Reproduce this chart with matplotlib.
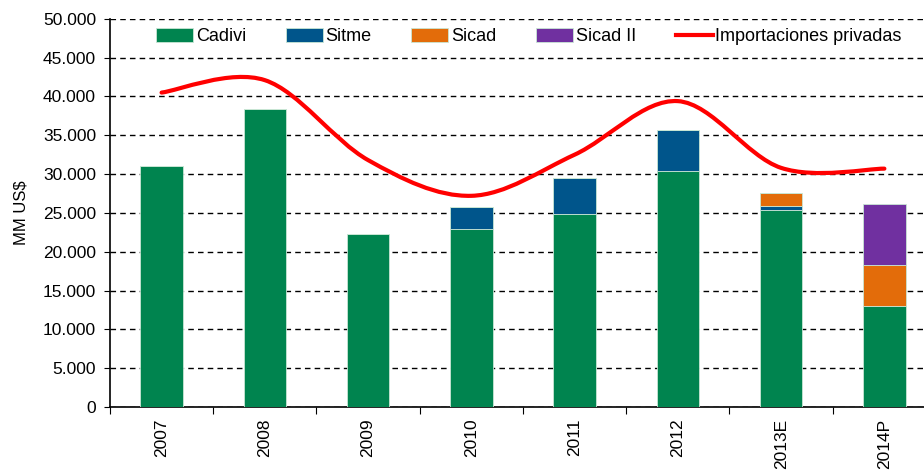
import numpy as np
import matplotlib.pyplot as plt
from matplotlib.path import Path
from matplotlib.patches import PathPatch
from matplotlib.lines import Line2D
from matplotlib.ticker import FuncFormatter

plt.rcParams['font.family'] = ['Liberation Sans', 'DejaVu Sans']

years = ['2007', '2008', '2009', '2010', '2011', '2012', '2013E', '2014P']
cadivi = [31000, 38400, 22300, 22900, 24800, 30400, 25400, 13000]
sitme = [0, 0, 0, 2800, 4700, 5300, 500, 0]
sicad = [0, 0, 0, 0, 0, 0, 1700, 5300]
sicad2 = [0, 0, 0, 0, 0, 0, 0, 7900]
importaciones = [40500, 42100, 31800, 27200, 32500, 39400, 30800, 30700]

c_green = '#00844F'
c_blue = '#00558B'
c_orange = '#E36C0A'
c_purple = '#7030A0'
c_red = '#FF0000'

fig = plt.figure(figsize=(9.24, 4.71), dpi=100)
ax = fig.add_axes([0.119, 0.136, 0.894, 0.824])

x = np.arange(len(years))
w = 0.41
edge = dict(edgecolor='#C8E6D4', linewidth=0.6)
bottom = np.zeros(len(years))
for vals, col, lab in [(cadivi, c_green, 'Cadivi'), (sitme, c_blue, 'Sitme'),
                       (sicad, c_orange, 'Sicad'), (sicad2, c_purple, 'Sicad II')]:
    v = np.array(vals, dtype=float)
    ax.bar(x, v, w, bottom=bottom, color=col, label=lab, zorder=3, **edge)
    bottom += v

# smoothed line (Catmull-Rom as bezier segments, like Excel's smoothed line)
pts = np.column_stack([x, importaciones]).astype(float)
verts = [pts[0]]
codes = [Path.MOVETO]
n = len(pts)
for i in range(n - 1):
    p0 = pts[i - 1] if i > 0 else pts[i]
    p1 = pts[i]
    p2 = pts[i + 1]
    p3 = pts[i + 2] if i + 2 < n else pts[i + 1]
    c1 = p1 + (p2 - p0) / 6.0
    c2 = p2 - (p3 - p1) / 6.0
    verts += [c1, c2, p2]
    codes += [Path.CURVE4] * 3
ax.add_patch(PathPatch(Path(verts, codes), facecolor='none', edgecolor=c_red,
                       lw=3, zorder=4, capstyle='round'))

ax.set_xlim(-0.5, len(years) - 0.5)
ax.set_ylim(0, 50000)
ax.set_yticks(np.arange(0, 50001, 5000))
ax.yaxis.set_major_formatter(FuncFormatter(lambda v, p: f'{int(v):,}'.replace(',', '.')))
ax.grid(axis='y', color='black', linestyle=(0, (4, 3)), linewidth=1, zorder=1)

ax.set_xticks(np.arange(-0.5, len(years), 1.0))
ax.set_xticklabels([])
ax.set_xticks(x, minor=True)
ax.set_xticklabels(years, minor=True, rotation=90, fontsize=12.5)
ax.tick_params(axis='x', which='major', length=5, direction='out', color='black')
ax.tick_params(axis='x', which='minor', length=0, pad=8.5)
ax.tick_params(axis='y', length=4, labelsize=12.5, pad=6, direction='out', color='black')

ax.set_ylabel('MM US$', fontsize=12, labelpad=10)

for s in ['top', 'right']:
    ax.spines[s].set_visible(False)
ax.spines['left'].set_linewidth(1.2)
ax.spines['bottom'].set_linewidth(1.2)

handles, labels = ax.get_legend_handles_labels()
handles.append(Line2D([0], [0], color=c_red, lw=3))
labels.append('Importaciones privadas')
ax.legend(handles, labels, loc='upper left', bbox_to_anchor=(0.047, 0.995), ncol=5,
          frameon=False, fontsize=13, handlelength=2.05, handleheight=0.8,
          handletextpad=0.15, columnspacing=2.2, borderaxespad=0)

fig.savefig('out.png', dpi=100)
